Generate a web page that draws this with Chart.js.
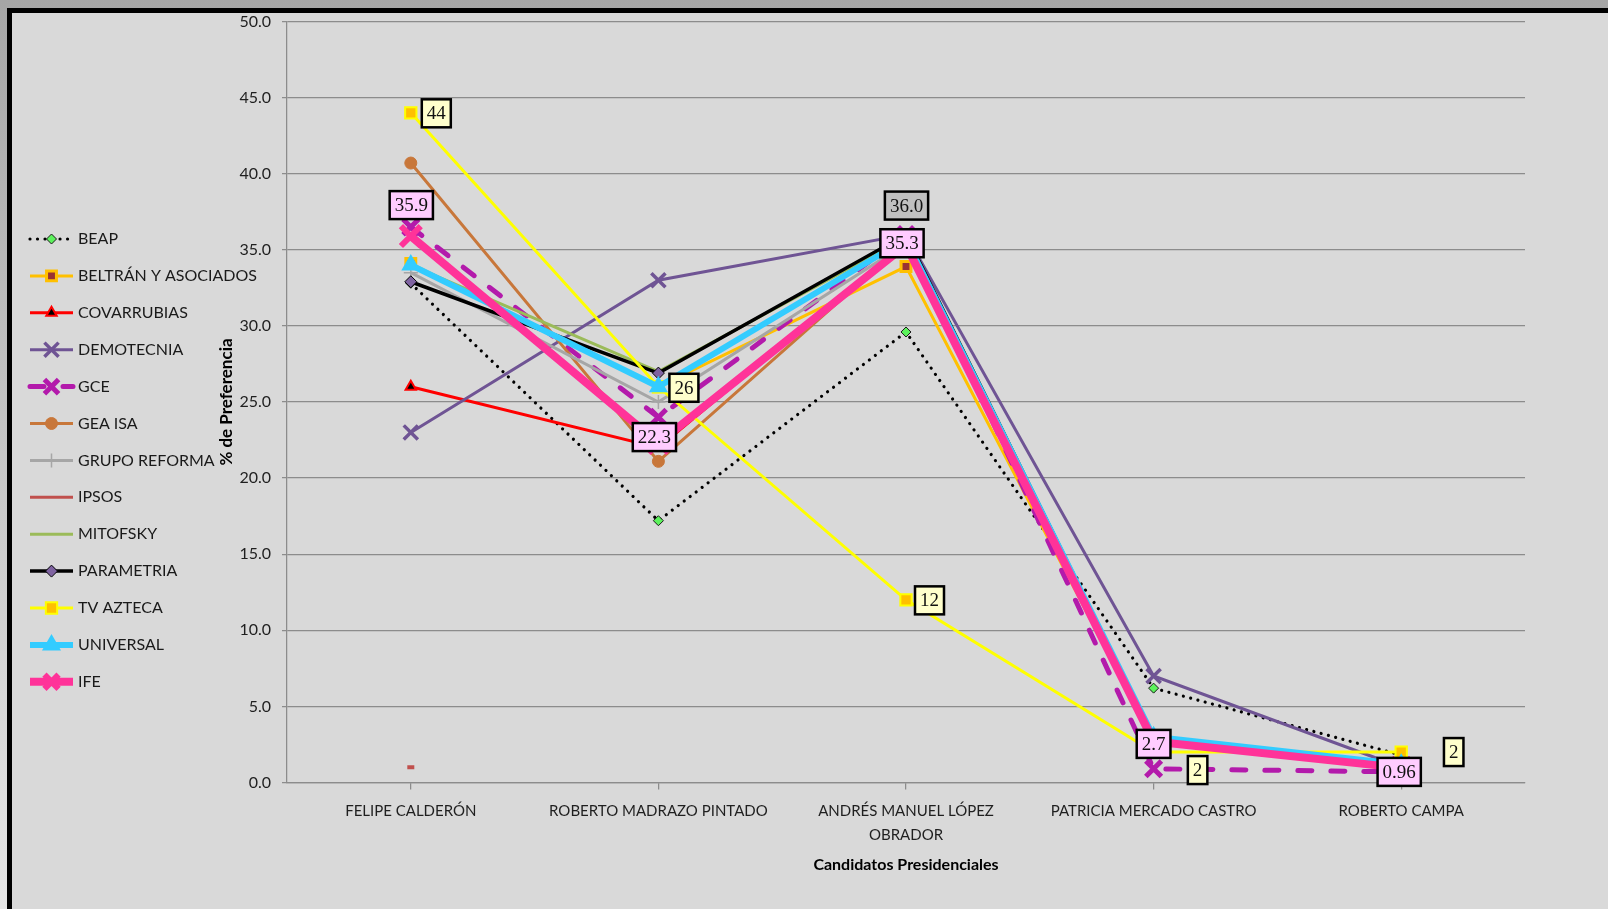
<!DOCTYPE html>
<html>
<head>
<meta charset="utf-8">
<script src="https://cdn.jsdelivr.net/npm/chart.js@4.4.0/dist/chart.umd.min.js"></script>
<style>
  html, body { margin: 0; padding: 0; }
  body {
    width: 1608px; height: 909px; overflow: hidden; position: relative;
    background: linear-gradient(#a6a6a6, #e6e6e6);
  }
  #frame {
    position: absolute; left: 7px; top: 8px; width: 1596px; height: 896px;
    border-top: 5px solid #000; border-left: 5px solid #000; background: #d9d9d9;
  }
  canvas { display: block; }
</style>
</head>
<body>
<div id="frame"><canvas id="chart" width="1596" height="896"></canvas></div>
<script>
// candidates on the x axis
const candidates = [
  "FELIPE CALDERÓN",
  "ROBERTO MADRAZO PINTADO",
  ["ANDRÉS MANUEL LÓPEZ", "OBRADOR"],
  "PATRICIA MERCADO CASTRO",
  "ROBERTO CAMPA",
];

// % de preferencia per pollster
const beap = [32.8, 17.2, 29.6, 6.2, 1.8];
const beltran = [34.1, 26.0, 33.9, 2.8, 1.0];
const covarrubias = [26.0, 22.0, 35.5, 2.8, 1.0];
const demotecnia = [23.0, 33.0, 36.0, 7.0, 1.0];
const gce = [36.5, 24.0, 36.0, 0.9, 0.7];
const geaIsa = [40.7, 21.1, 35.5, 2.8, 1.0];
const grupoReforma = [33.5, 25.0, 35.4, 2.8, 1.0];
const ipsos = [1.0, null, null, null, null];
const mitofsky = [34.0, 27.0, 35.8, 2.9, 1.0];
const parametria = [32.9, 26.9, 36.0, 3.0, 1.0];
const tvAzteca = [44, 26, 12, 2, 2];
const universal = [34.0, 26.0, 35.7, 3.0, 1.2];
const ife = [35.9, 22.3, 35.3, 2.7, 0.96];

const yTicks = { min: 0, max: 50, step: 5 };

function series(label, data, style) {
  return Object.assign({ label: label, data: data, tension: 0, fill: false }, style);
}

const datasets = [
  series("BEAP", beap, {
    borderColor: "#000000", borderWidth: 3.2, borderDash: [0.01, 7.5], borderCapStyle: "round",
    pointStyle: "rectRot", pointRadius: 5, pointBackgroundColor: "#5CF25C",
    pointBorderColor: "#1a1a1a", pointBorderWidth: 1,
  }),
  series("BELTRÁN Y ASOCIADOS", beltran, {
    borderColor: "#FFC000", borderWidth: 3,
    pointStyle: "rect", pointRadius: 7, pointBackgroundColor: "#993333",
    pointBorderColor: "#FFC000", pointBorderWidth: 3,
  }),
  series("COVARRUBIAS", covarrubias, {
    borderColor: "#FF0000", borderWidth: 3,
    pointStyle: "triangle", pointRadius: 6, pointBackgroundColor: "#000000",
    pointBorderColor: "#FF0000", pointBorderWidth: 2,
  }),
  series("DEMOTECNIA", demotecnia, {
    borderColor: "#6F5494", borderWidth: 3,
    pointStyle: "crossRot", pointRadius: 10, pointBackgroundColor: "#6F5494",
    pointBorderColor: "#6F5494", pointBorderWidth: 3.5,
  }),
  series("GCE", gce, {
    borderColor: "#B31AAB", borderWidth: 5, borderDash: [14, 19], borderCapStyle: "round",
    pointStyle: "crossRot", pointRadius: 11, pointBackgroundColor: "#B31AAB",
    pointBorderColor: "#B31AAB", pointBorderWidth: 5,
  }),
  series("GEA ISA", geaIsa, {
    borderColor: "#C8773A", borderWidth: 3,
    pointStyle: "circle", pointRadius: 6, pointBackgroundColor: "#C8773A",
    pointBorderColor: "#C8773A", pointBorderWidth: 1,
  }),
  series("GRUPO REFORMA", grupoReforma, {
    borderColor: "#A6A6A6", borderWidth: 3,
    pointStyle: "cross", pointRadius: 7, pointBackgroundColor: "#A6A6A6",
    pointBorderColor: "#A6A6A6", pointBorderWidth: 1.5,
  }),
  series("IPSOS", ipsos, {
    borderColor: "#C0504D", borderWidth: 3,
    pointStyle: "line", pointRadius: 3.5, pointBackgroundColor: "#C0504D",
    pointBorderColor: "#C0504D", pointBorderWidth: 4, legendMarker: false,
  }),
  series("MITOFSKY", mitofsky, {
    borderColor: "#9BBB59", borderWidth: 3, pointRadius: 0,
  }),
  series("PARAMETRIA", parametria, {
    borderColor: "#000000", borderWidth: 3.5,
    pointStyle: "rectRot", pointRadius: 6, pointBackgroundColor: "#7F63A1",
    pointBorderColor: "#000000", pointBorderWidth: 1,
  }),
  series("TV AZTECA", tvAzteca, {
    borderColor: "#FFFF00", borderWidth: 3,
    pointStyle: "rect", pointRadius: 8, pointBackgroundColor: "#FFC000",
    pointBorderColor: "#FFFF00", pointBorderWidth: 2,
  }),
  series("UNIVERSAL", universal, {
    borderColor: "#33CCFF", borderWidth: 6,
    pointStyle: "triangle", pointRadius: 9, pointBackgroundColor: "#33CCFF",
    pointBorderColor: "#33CCFF", pointBorderWidth: 2,
  }),
  series("IFE", ife, {
    borderColor: "#FF3399", borderWidth: 8,
    pointStyle: "crossRot", pointRadius: 14, pointBackgroundColor: "#FF3399",
    pointBorderColor: "#FF3399", pointBorderWidth: 6,
  }),
];
// later series are drawn on top, like in the spreadsheet
datasets.forEach((ds, i) => { ds.order = datasets.length - i; });

// boxed value labels (series, point index, box fill, offset from the point)
const valueLabels = [
  { series: "PARAMETRIA", index: 2, fill: "#C0C0C0", dx: 0.5, dy: -29, fmt: (v) => v.toFixed(1) },
  { series: "TV AZTECA", index: 0, fill: "#FFFFCC", dx: 25.5, dy: 0.5, fmt: (v) => String(v) },
  { series: "TV AZTECA", index: 1, fill: "#FFFFCC", dx: 25.5, dy: 1, fmt: (v) => String(v) },
  { series: "TV AZTECA", index: 2, fill: "#FFFFCC", dx: 23.5, dy: 0.5, fmt: (v) => String(v) },
  { series: "TV AZTECA", index: 3, fill: "#FFFFCC", dx: 44, dy: 18, fmt: (v) => String(v) },
  { series: "TV AZTECA", index: 4, fill: "#FFFFCC", dx: 52.5, dy: 0, fmt: (v) => String(v) },
  { series: "IFE", index: 0, fill: "#FFCCFF", dx: 0.5, dy: -31, fmt: (v) => String(v) },
  { series: "IFE", index: 1, fill: "#FFCCFF", dx: -4, dy: -6, fmt: (v) => String(v) },
  { series: "IFE", index: 2, fill: "#FFCCFF", dx: -4, dy: -2, fmt: (v) => String(v) },
  { series: "IFE", index: 3, fill: "#FFCCFF", dx: 0, dy: 2.5, fmt: (v) => String(v) },
  { series: "IFE", index: 4, fill: "#FFCCFF", dx: -2, dy: 4, fmt: (v) => String(v) },
];

const boxLabelPlugin = {
  id: "boxLabels",
  afterDatasetsDraw(chart) {
    const ctx = chart.ctx;
    ctx.save();
    ctx.font = '19px "Liberation Serif"';
    ctx.textAlign = "center";
    ctx.textBaseline = "middle";
    valueLabels.forEach((lab) => {
      const dsIndex = chart.data.datasets.findIndex((d) => d.label === lab.series);
      const point = chart.getDatasetMeta(dsIndex).data[lab.index];
      const text = lab.fmt(chart.data.datasets[dsIndex].data[lab.index]);
      const w = ctx.measureText(text).width + 10;
      const h = 28;
      const cx = point.x + lab.dx;
      const cy = point.y + lab.dy;
      ctx.fillStyle = lab.fill;
      ctx.fillRect(cx - w / 2, cy - h / 2, w, h);
      ctx.lineWidth = 2.5;
      ctx.strokeStyle = "#000000";
      ctx.strokeRect(cx - w / 2, cy - h / 2, w, h);
      ctx.fillStyle = "#111111";
      ctx.fillText(text, cx, cy + 1);
    });
    ctx.restore();
  },
};

// legend on the left: a short line with the marker in the middle
const sideLegendPlugin = {
  id: "sideLegend",
  afterDraw(chart) {
    const ctx = chart.ctx;
    chart.data.datasets.forEach((ds, i) => {
      const y = 226 + i * 36.9;
      ctx.save();
      ctx.strokeStyle = ds.borderColor;
      ctx.lineWidth = ds.borderWidth;
      ctx.lineCap = ds.borderCapStyle || "butt";
      ctx.setLineDash(ds.borderDash || []);
      ctx.beginPath();
      ctx.moveTo(18, y);
      ctx.lineTo(61, y);
      ctx.stroke();
      ctx.setLineDash([]);
      if (ds.pointRadius > 0 && ds.legendMarker !== false) {
        ctx.fillStyle = ds.pointBackgroundColor;
        ctx.strokeStyle = ds.pointBorderColor;
        ctx.lineWidth = ds.pointBorderWidth;
        ctx.lineCap = "butt";
        Chart.helpers.drawPoint(ctx, {
          pointStyle: ds.pointStyle,
          radius: Math.min(ds.pointRadius, 10),
          rotation: 0,
          borderWidth: ds.pointBorderWidth,
        }, 39.5, y);
      }
      ctx.fillStyle = "#1a1a1a";
      ctx.font = "16px Lato";
      ctx.textBaseline = "middle";
      ctx.fillText(ds.label, 66, y);
      ctx.restore();
    });
  },
};

new Chart(document.getElementById("chart").getContext("2d"), {
  type: "line",
  data: { labels: candidates, datasets: datasets },
  plugins: [boxLabelPlugin, sideLegendPlugin],
  options: {
    responsive: false,
    animation: false,
    devicePixelRatio: 1,
    layout: { autoPadding: false, padding: { left: 204, right: 83, top: 8.5, bottom: 34.4 } },
    plugins: { legend: { display: false }, tooltip: { enabled: false } },
    scales: {
      x: {
        offset: true,
        grid: { drawOnChartArea: false, drawTicks: true, tickLength: 7, color: "#8c8c8c", lineWidth: 1.25 },
        border: { color: "#8c8c8c", width: 1.25 },
        ticks: {
          autoSkip: false, maxRotation: 0, padding: 9, color: "#1f1f1f",
          font: { family: "Lato", size: 15, lineHeight: 1.65 },
        },
        title: {
          display: true, text: "Candidatos Presidenciales", color: "#000000",
          padding: 0, font: { family: "Lato", size: 16, weight: "bold" },
        },
        afterFit(scale) {
          scale.height = 92.1;
          scale.paddingLeft = 0;
          scale.paddingRight = 0;
        },
      },
      y: {
        min: yTicks.min,
        max: yTicks.max,
        grid: { color: "#8c8c8c", lineWidth: 1.25, tickLength: 5 },
        border: { color: "#8c8c8c", width: 1.25 },
        ticks: {
          stepSize: yTicks.step, padding: 11, color: "#1f1f1f",
          font: { family: "Lato", size: 16 },
          callback: (v) => v.toFixed(1),
        },
        title: {
          display: true, text: "% de Preferencia", color: "#000000",
          padding: 0, font: { family: "Lato", size: 17, weight: "bold" },
        },
        afterFit(scale) {
          scale.width = 71;
          scale.paddingTop = 0;
          scale.paddingBottom = 0;
        },
      },
    },
  },
});
</script>
</body>
</html>
